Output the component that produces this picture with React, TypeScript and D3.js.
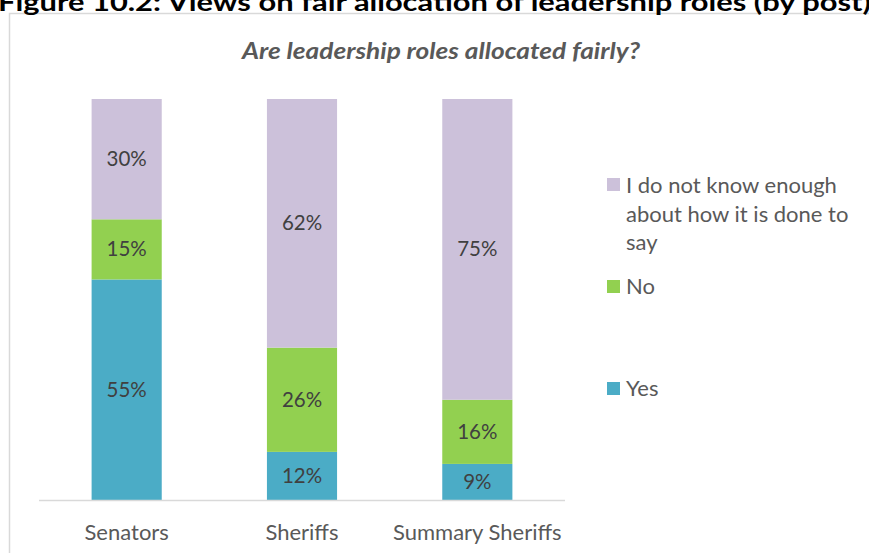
import React from "react";
import * as d3 from "d3";

const categories = ["Senators", "Sheriffs", "Summary Sheriffs"];
const seriesNames = ["Yes", "No", "I do not know enough about how it is done to say"];
const yesValues = [55, 12, 9];
const noValues = [15, 26, 16];
const dontKnowValues = [30, 62, 75];
const colors = ["#4BACC6", "#92D050", "#CCC1DA"];

const W = 869;
const H = 553;
const FONT = "Lato, 'Open Sans', sans-serif";

export default function App() {
  const x = d3.scaleBand<string>().domain(categories).range([39, 565]).paddingInner(0.6).paddingOuter(0.3);
  const y = d3.scaleLinear().domain([0, 100]).range([500, 99]);
  const rows = categories.map((c, i) => ({ cat: c, Yes: yesValues[i], No: noValues[i], DK: dontKnowValues[i] }));
  const stack = d3.stack<any>().keys(["Yes", "No", "DK"])(rows);

  return (
    <svg width={W} height={H} style={{ position: "fixed", left: 0, top: 0, background: "#fff" }} fontFamily={FONT}>
      <rect x={9.5} y={13.5} width={900} height={600} fill="#fff" stroke="#d9d9d9" strokeWidth={1.5} />
      <text x={-2} y={11} fontSize={25} fontWeight="bold" fill="#000" textLength={873} lengthAdjust="spacingAndGlyphs">
        Figure 10.2:  Views on fair allocation of leadership roles (by post)
      </text>
      <text x={441} y={59} fontSize={22} fontStyle="italic" fontWeight="bold" fill="#595959" textAnchor="middle" textLength={398} lengthAdjust="spacingAndGlyphs">
        Are leadership roles allocated fairly?
      </text>
      {stack.map((layer, li) => (
        <g key={li}>
          {layer.map((d, i) => {
            const x0 = x(categories[i])!;
            const top = y(d[1]);
            const bot = y(d[0]);
            return (
              <g key={i}>
                <rect x={x0} y={top} width={x.bandwidth()} height={bot - top} fill={colors[li]} />
                <text x={x0 + x.bandwidth() / 2} y={(top + bot) / 2 + 7} fontSize={20.5} fill="#404040" textAnchor="middle">
                  {d[1] - d[0]}%
                </text>
              </g>
            );
          })}
        </g>
      ))}
      <line x1={39} x2={565} y1={500.5} y2={500.5} stroke="#d9d9d9" strokeWidth={1.5} />
      {categories.map((c) => (
        <text key={c} x={x(c)! + x.bandwidth() / 2} y={540} fontSize={22} fill="#595959" textAnchor="middle">
          {c}
        </text>
      ))}
      <g fontSize={22} fill="#595959">
        <rect x={607} y={178} width={13} height={13} fill={colors[2]} />
        <text x={626} y={193}>I do not know enough</text>
        <text x={626} y={222}>about how it is done to</text>
        <text x={626} y={250}>say</text>
        <rect x={607} y={280} width={13} height={13} fill={colors[1]} />
        <text x={626} y={294}>{seriesNames[1]}</text>
        <rect x={607} y={382} width={13} height={13} fill={colors[0]} />
        <text x={626} y={396}>{seriesNames[0]}</text>
      </g>
    </svg>
  );
}
